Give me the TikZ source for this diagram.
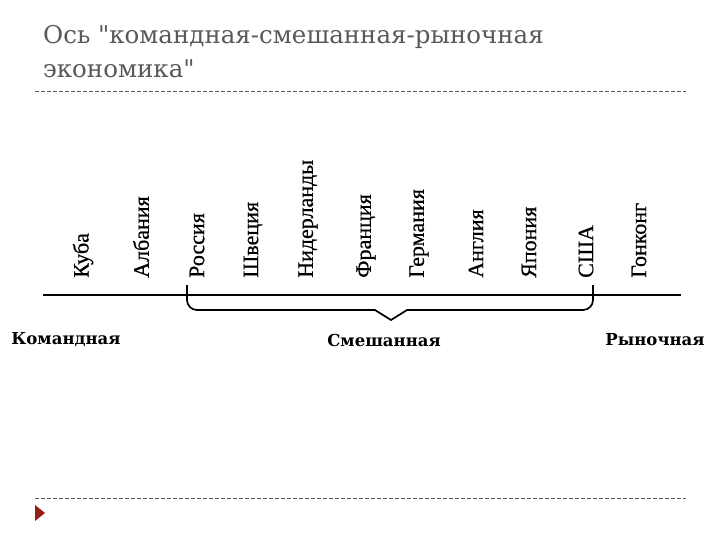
\documentclass[tikz,border=0pt]{standalone}
\usepackage{fontspec}
\setmainfont{Liberation Serif}
\newfontfamily\countryserif[FakeBold=0.6]{Liberation Serif}
\newfontfamily\boldserif{DejaVu Serif}
\newfontfamily\titleserif{DejaVu Serif}
\usepackage{tikz}
\usetikzlibrary{positioning}

\definecolor{titlegray}{RGB}{89,89,89}
\definecolor{arrowred}{RGB}{150,30,20}

\begin{document}
\begin{tikzpicture}[x=1pt,y=-1pt,
		country/.style={rotate=90,anchor=west,inner sep=0pt,font=\countryserif\fontsize{22}{22}\selectfont},
		kind/.style={inner sep=0pt,font=\boldserif\bfseries\fontsize{16.5}{16.5}\selectfont},
		rule/.style={dashed,dash pattern=on 4pt off 2pt,titlegray,line width=0.6pt}]
	
	\useasboundingbox (0,0) rectangle (720,540);
	
	\node[anchor=base west,align=left,inner sep=0pt,text=titlegray,
		font=\titleserif\fontsize{24.5}{34}\selectfont] (title) at (43,78)
		{Ось \symbol{34}командная-смешанная-рыночная\\экономика\symbol{34}};
	
	\coordinate (ruletl) at (35,91);
	\coordinate (ruletr) at (686,91);
	\coordinate (rulebl) at (35,498);
	\coordinate (rulebr) at (686,498);
	\draw[rule] (ruletl) -- (ruletr);
	\draw[rule] (rulebl) -- (rulebr);
	\fill[arrowred] (35,505) -- (45,513) -- (35,521) -- cycle;
	
	% axis
	\coordinate (axl) at (43,295);
	\coordinate (axr) at (681,295);
	\draw[line width=2.2pt] (axl) -- (axr);
	
	% brace
	\coordinate (brl) at (187,285);
	\coordinate (brr) at (593,285);
	\coordinate (brtip) at (391,320);
	\draw[line width=1.7pt] (brl) -- (187,300) to[out=-90,in=180] (197,310)
		-- (375,310) -- (brtip) -- (407,310) -- (583,310)
		to[out=0,in=-90] (593,300) -- (brr);
	
	\node[country] (kuba) at (83,278) {Куба};
	\node[country] (albania) at (141,278) {Албания};
	\node[country] (russia) at (197,278) {Россия};
	\node[country] (shvetsia) at (253,278) {Швеция};
	\node[country] (niderl) at (308,278) {Нидерланды};
	\node[country] (francia) at (366,278) {Франция};
	\node[country] (germania) at (419,278) {Германия};
	\node[country] (anglia) at (476,278) {Англия};
	\node[country] (yaponia) at (529,278) {Япония};
	\node[country] (ssha) at (586,278) {США};
	\node[country] (gonkong) at (639,278) {Гонконг};
	
	\node[kind] (komand) at (66,340) {Командная};
	\node[kind] (smesh) at (384,340) {Смешанная};
	\node[kind] (rynoch) at (655,340) {Рыночная};
	
\end{tikzpicture}
\end{document}
